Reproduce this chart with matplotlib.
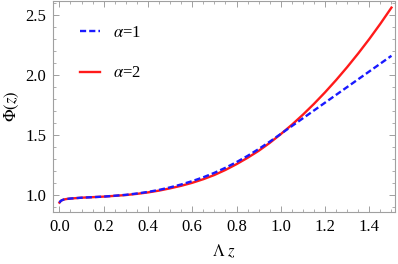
import matplotlib
matplotlib.use("Agg")
import matplotlib.pyplot as plt
from matplotlib.ticker import MultipleLocator

# Data
z_vals = [0.0, 0.005, 0.01, 0.02, 0.035, 0.05, 0.1, 0.2, 0.30, 0.35, 0.40, 0.45, 0.50,
          0.55, 0.60, 0.65, 0.70, 0.75, 0.80, 0.85, 0.90, 0.95, 1.00, 1.05, 1.10, 1.15,
          1.20, 1.25, 1.30, 1.35, 1.40, 1.45, 1.50]
phi_alpha1 = [0.935, 0.947, 0.954, 0.961, 0.966, 0.969, 0.976, 0.985, 1.000, 1.011, 1.024,
              1.041, 1.062, 1.086, 1.114, 1.146, 1.183, 1.225, 1.272, 1.324, 1.381, 1.442,
              1.507, 1.572, 1.637, 1.702, 1.767, 1.832, 1.897, 1.962, 2.027, 2.092, 2.157]
phi_alpha2 = [0.935, 0.947, 0.954, 0.961, 0.966, 0.969, 0.976, 0.985, 0.998, 1.008, 1.020,
              1.035, 1.054, 1.075, 1.100, 1.130, 1.165, 1.207, 1.255, 1.308, 1.366, 1.432,
              1.505, 1.583, 1.667, 1.757, 1.853, 1.955, 2.063, 2.177, 2.297, 2.424, 2.558]
labels = [r"$\alpha$=1", r"$\alpha$=2"]
x_ticks = [0.0, 0.2, 0.4, 0.6, 0.8, 1.0, 1.2, 1.4]
y_ticks = [1.0, 1.5, 2.0, 2.5]

plt.rcParams["font.family"] = ["Liberation Serif", "DejaVu Serif"]
plt.rcParams["mathtext.fontset"] = "stix"

fig = plt.figure(figsize=(3.98, 2.64), dpi=100)
ax = fig.add_axes([53/398, 52/264, 342/398, 211/264])

ax.plot(z_vals, phi_alpha1, color="#1a1aff", lw=1.7, dashes=(2.6, 1.3), label=labels[0], zorder=3)
ax.plot(z_vals, phi_alpha2, color="#ff1a1a", lw=1.7, label=labels[1], zorder=2)

ax.set_xlim(-0.029, 1.516)
ax.set_ylim(0.857, 2.613)
ax.set_xticks(x_ticks)
ax.set_yticks(y_ticks)
ax.xaxis.set_minor_locator(MultipleLocator(0.05))
ax.yaxis.set_minor_locator(MultipleLocator(0.1))
ax.set_xticklabels([f"{t:.1f}" for t in x_ticks])
ax.set_yticklabels([f"{t:.1f}" for t in y_ticks])

gray = "#a0a0a0"
for s in ax.spines.values():
    s.set_color(gray)
    s.set_linewidth(0.8)
ax.tick_params(which="both", direction="in", top=True, right=True, color=gray,
               labelsize=12, labelcolor="black")
ax.tick_params(which="major", length=4, width=0.7, pad=5)
ax.tick_params(which="minor", length=2.2, width=0.6)

ax.set_xlabel(r"$\Lambda\ z$", fontsize=12)
ax.set_ylabel(r"$\Phi(z)$", fontsize=12)
ax.yaxis.label.set_va("center")
ax.yaxis.set_label_coords(-0.12, 0.5)
ax.xaxis.label.set_va("top")
ax.xaxis.set_label_coords(0.5, -0.145)

leg = ax.legend(loc="upper left", bbox_to_anchor=(0.079, 0.885), frameon=False,
                fontsize=12, handlelength=1.2, handletextpad=0.75, labelspacing=1.45,
                borderpad=0, borderaxespad=0)

fig.savefig("out.png", dpi=100)
